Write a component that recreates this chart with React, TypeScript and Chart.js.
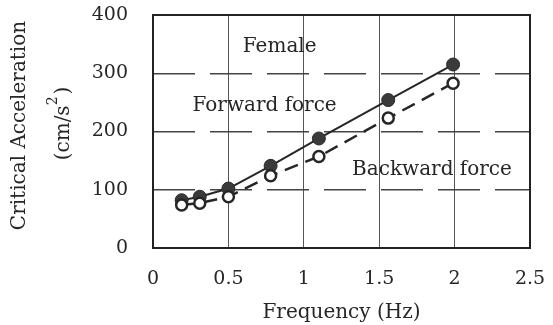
import React, { useEffect, useRef } from "react";
import { Chart, registerables } from "chart.js";

Chart.register(...registerables);

const forwardFreq = [0.19, 0.31, 0.5, 0.78, 1.1, 1.56, 1.99];
const forwardAccel = [82, 88, 102, 141, 188, 254, 315];
const backwardFreq = [0.19, 0.31, 0.5, 0.78, 1.1, 1.56, 1.99];
const backwardAccel = [74, 77, 88, 124, 157, 223, 283];
const xTicks = [0, 0.5, 1, 1.5, 2, 2.5];
const yTicks = [0, 100, 200, 300, 400];
const xTitle = "Frequency (Hz)";
const yTitleLine1 = "Critical Acceleration";
const yTitleLine2 = "(cm/s";
const yTitleSup = "2";
const yTitleEnd = ")";
const annotations = [
  { text: "Female", x: 0.84, y: 345 },
  { text: "Forward force", x: 0.74, y: 244 },
  { text: "Backward force", x: 1.85, y: 134 },
];

const FONT = "'DejaVu Serif', 'Liberation Serif', serif";
const INK = "#262626";

export default function App() {
  const ref = useRef<HTMLCanvasElement | null>(null);

  useEffect(() => {
    document.body.style.margin = "0";
    const canvas = ref.current;
    if (!canvas) return;

    const textPlugin = {
      id: "texts",
      afterDraw(chart: any) {
        const ctx = chart.ctx;
        const xs = chart.scales.x;
        const ys = chart.scales.y;
        ctx.save();
        ctx.fillStyle = INK;
        ctx.font = `20px ${FONT}`;
        ctx.textAlign = "center";
        ctx.textBaseline = "middle";
        for (const a of annotations) {
          const px = xs.getPixelForValue(a.x);
          const py = ys.getPixelForValue(a.y);
          ctx.fillText(a.text, px, py);
        }
        // y title
        const cy = (chart.chartArea.top + chart.chartArea.bottom) / 2 - 6;
        ctx.save();
        ctx.translate(20, cy);
        ctx.rotate(-Math.PI / 2);
        ctx.font = `20px ${FONT}`;
        ctx.fillText(yTitleLine1, 0, 0);
        ctx.restore();
        ctx.save();
        ctx.translate(64, cy - 2);
        ctx.rotate(-Math.PI / 2);
        ctx.font = `20px ${FONT}`;
        const w2 = ctx.measureText(yTitleLine2).width;
        const wEnd = ctx.measureText(yTitleEnd).width;
        ctx.font = `14px ${FONT}`;
        const wSup = ctx.measureText(yTitleSup).width;
        const total = w2 + wSup + wEnd + 2;
        let x0 = -total / 2;
        ctx.textAlign = "left";
        ctx.font = `20px ${FONT}`;
        ctx.fillText(yTitleLine2, x0, 0);
        x0 += w2;
        ctx.font = `14px ${FONT}`;
        ctx.fillText(yTitleSup, x0, -11);
        x0 += wSup + 2;
        ctx.font = `20px ${FONT}`;
        ctx.fillText(yTitleEnd, x0, 0);
        ctx.restore();
        ctx.restore();
      },
    };

    const chart = new Chart(canvas, {
      type: "scatter",
      data: {
        datasets: [
          {
            label: "Backward force",
            data: backwardFreq.map((f, i) => ({ x: f, y: backwardAccel[i] })),
            showLine: true,
            borderColor: INK,
            borderWidth: 2.5,
            borderDash: [14, 8],
            pointRadius: 5.5,
            pointBackgroundColor: "#ffffff",
            pointBorderColor: INK,
            pointBorderWidth: 2.5,
            order: 0,
          },
          {
            label: "Forward force",
            data: forwardFreq.map((f, i) => ({ x: f, y: forwardAccel[i] })),
            showLine: true,
            borderColor: INK,
            borderWidth: 2,
            pointRadius: 6.5,
            pointBackgroundColor: "#3a3a3a",
            pointBorderColor: "#2a2a2a",
            pointBorderWidth: 1,
            order: 1,
          },
        ],
      },
      options: {
        animation: false,
        responsive: false,
        maintainAspectRatio: false,
        layout: { padding: { top: 15, right: 23, left: 0, bottom: 0 } },
        plugins: {
          legend: { display: false },
          tooltip: { enabled: false },
        },
        scales: {
          x: {
            type: "linear",
            min: 0,
            max: 2.5,
            afterBuildTicks(scale: any) {
              scale.ticks = xTicks.map((v) => ({ value: v }));
            },
            afterFit(scale: any) {
              scale.height = 77;
              scale.paddingLeft = 0;
              scale.paddingRight = 0;
              scale.paddingTop = 0;
              scale.paddingBottom = 0;
            },
            ticks: {
              color: INK,
              font: { family: FONT, size: 19 },
              padding: 20,
              maxRotation: 0,
              callback: (v: any) => String(v),
            },
            grid: {
              color: (c: any) =>
                c.tick && (c.tick.value === 0 || c.tick.value === 2.5) ? "rgba(0,0,0,0)" : "#555555",
              lineWidth: 1,
              drawTicks: false,
            },
            border: { display: false },
            title: {
              display: true,
              text: xTitle,
              color: INK,
              font: { family: FONT, size: 20 },
              padding: { top: 0, bottom: 0 },
            },
          },
          y: {
            type: "linear",
            min: 0,
            max: 400,
            afterBuildTicks(scale: any) {
              scale.ticks = yTicks.map((v) => ({ value: v }));
            },
            afterFit(scale: any) {
              scale.width = 153;
              scale.paddingLeft = 0;
              scale.paddingRight = 0;
              scale.paddingTop = 0;
              scale.paddingBottom = 0;
            },
            ticks: {
              color: INK,
              font: { family: FONT, size: 19 },
              padding: 25,
              callback: (v: any) => String(v),
            },
            grid: {
              color: (c: any) =>
                c.tick && (c.tick.value === 0 || c.tick.value === 400) ? "rgba(0,0,0,0)" : "#444444",
              lineWidth: 1.5,
              drawTicks: false,
            },
            border: { display: false, dash: [42, 15] },
          },
        },
      },
      plugins: [
        textPlugin,
        {
          id: "frame",
          afterDatasetsDraw(chart: any) {
            const { left, right, top, bottom } = chart.chartArea;
            const ctx = chart.ctx;
            ctx.save();
            ctx.strokeStyle = "#222222";
            ctx.lineWidth = 2;
            ctx.strokeRect(left, top, right - left, bottom - top);
            ctx.restore();
          },
        },
      ],
    } as any);

    return () => chart.destroy();
  }, []);

  return <canvas ref={ref} width={553} height={325} style={{ display: "block" }} />;
}
